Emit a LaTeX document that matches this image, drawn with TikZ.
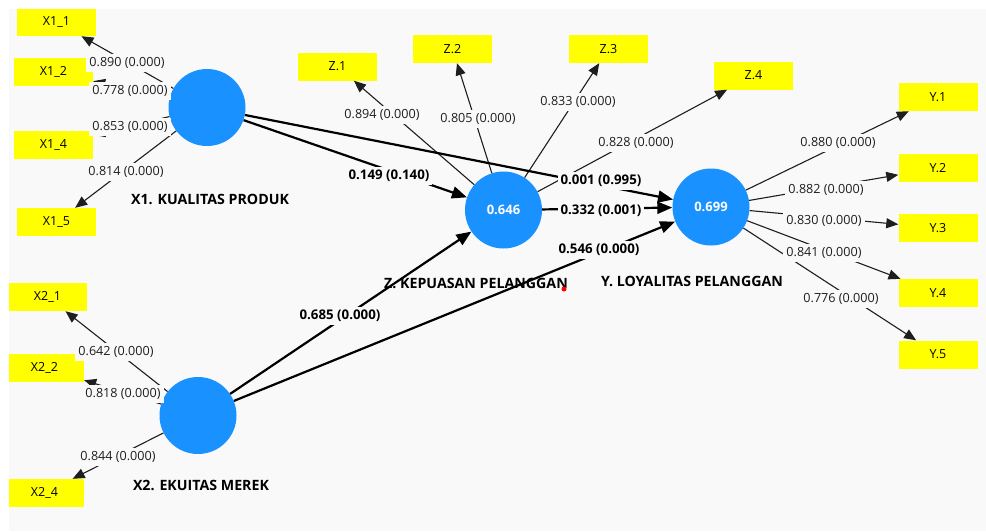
\documentclass[tikz,border=0pt]{standalone}
\usepackage{fontspec}
\setmainfont{Open Sans}
\usetikzlibrary{arrows.meta}
\definecolor{canvas}{RGB}{249,249,249}
\definecolor{lvblue}{RGB}{25,145,255}
\definecolor{mvyellow}{RGB}{255,255,0}
\definecolor{lineclr}{RGB}{30,30,30}

\begin{document}
\begin{tikzpicture}[x=1pt,y=-1pt,
  latent/.style={circle,fill=lvblue,minimum size=77pt,inner sep=0pt,text=white,
    font=\bfseries\fontsize{13}{15}\selectfont},
  indicator/.style={rectangle,fill=mvyellow,minimum width=79pt,minimum height=28pt,
    inner sep=0pt,font=\fontsize{12.5}{14}\selectfont},
  loading/.style={draw=lineclr,line width=1.1pt,-{Triangle[length=12pt,width=10pt]}},
  pathcoef/.style={draw=black,line width=2.2pt,-{Triangle[length=15pt,width=12pt]}},
  lval/.style={fill=canvas,inner xsep=3pt,inner ysep=3pt,text=lineclr,
    font=\fontsize{12.6}{14}\selectfont},
  pval/.style={fill=canvas,inner xsep=3pt,inner ysep=3pt,
    font=\bfseries\fontsize{13.3}{15}\selectfont},
  cname/.style={font=\bfseries\fontsize{14.2}{16}\selectfont}
]
\useasboundingbox (0,0) rectangle (986,531);
\fill[white] (0,0) rectangle (986,531);
\begin{scope}
\clip (9,9) rectangle (986,531);
\fill[canvas] (9,9) rectangle (986,531);

% construct names
\node[cname] (nX1) at (210,199) {X1. KUALITAS PRODUK};
\node[cname] (nX2) at (201,485) {X2. EKUITAS MEREK};
\node[cname] (nZ)  at (476,283) {Z. KEPUASAN PELANGGAN};
\node[cname] (nY)  at (692,281) {Y. LOYALITAS PELANGGAN};

% latent variables
\node[latent] (X1) at (207,107.5) {};
\node[latent] (X2) at (198,415.5) {};
\node[latent] (Z)  at (503.5,210) {0.646};
\node[latent] (Y)  at (711,207) {0.699};

% indicators
\node[indicator] (x11) at (56.5,22)   {X1\_1};
\node[indicator] (x12) at (53.5,72)   {X1\_2};
\node[indicator] (x14) at (53.5,144.5){X1\_4};
\node[indicator] (x15) at (56.5,222)  {X1\_5};
\node[indicator] (x21) at (47.5,297)  {X2\_1};
\node[indicator] (x22) at (44.5,368)  {X2\_2};
\node[indicator] (x24) at (44.5,493)  {X2\_4};
\node[indicator] (z1) at (337.5,66.5) {Z.1};
\node[indicator] (z2) at (452.5,49)   {Z.2};
\node[indicator] (z3) at (608.5,49)   {Z.3};
\node[indicator] (z4) at (753.5,75.5) {Z.4};
\node[indicator] (y1) at (938,97)     {Y.1};
\node[indicator] (y2) at (938,168)    {Y.2};
\node[indicator] (y3) at (938,228)    {Y.3};
\node[indicator] (y4) at (938,293)    {Y.4};
\node[indicator] (y5) at (938,354.5)  {Y.5};

% outer loadings
\foreach \a/\b in {X1/x11,X1/x12,X1/x14,X1/x15,X2/x21,X2/x22,X2/x24,
                   Z/z1,Z/z2,Z/z3,Z/z4,Y/y1,Y/y2,Y/y3,Y/y4,Y/y5}
  \draw[loading] (\a) -- (\b);

% structural paths
\draw[pathcoef] (X1) -- (Z);
\draw[pathcoef] (X1) -- (Y);
\draw[pathcoef] (X2) -- (Z);
\draw[pathcoef] (X2) -- (Y);
\draw[pathcoef] (Z) -- (Y);

% loading values
\node[lval] (l11) at (127,63)  {0.890 (0.000)};
\node[lval] (l12) at (130,91)  {0.778 (0.000)};
\node[lval] (l14) at (130,127) {0.853 (0.000)};
\node[lval] (l15) at (126,172) {0.814 (0.000)};
\node[lval] (l21) at (116,352) {0.642 (0.000)};
\node[lval] (l22) at (123,394) {0.818 (0.000)};
\node[lval] (l24) at (118,457) {0.844 (0.000)};
\node[lval] (lz1) at (382,115) {0.894 (0.000)};
\node[lval] (lz2) at (478,119) {0.805 (0.000)};
\node[lval] (lz3) at (578,102) {0.833 (0.000)};
\node[lval] (lz4) at (636,143) {0.828 (0.000)};
\node[lval] (ly1) at (838,143) {0.880 (0.000)};
\node[lval] (ly2) at (826,190) {0.882 (0.000)};
\node[lval] (ly3) at (824,221) {0.830 (0.000)};
\node[lval] (ly4) at (824,253) {0.841 (0.000)};
\node[lval] (ly5) at (841,299) {0.776 (0.000)};

% path coefficients
\node[pval] (p1) at (389,176) {0.149 (0.140)};
\node[pval] (p2) at (601,181) {0.001 (0.995)};
\node[pval] (p3) at (601,211) {0.332 (0.001)};
\node[pval] (p4) at (599,250) {0.546 (0.000)};
\node[pval] (p5) at (340,316) {0.685 (0.000)};

% marker dot
\fill[red] (564,289) circle (2.5pt);
\end{scope}
\end{tikzpicture}
\end{document}
